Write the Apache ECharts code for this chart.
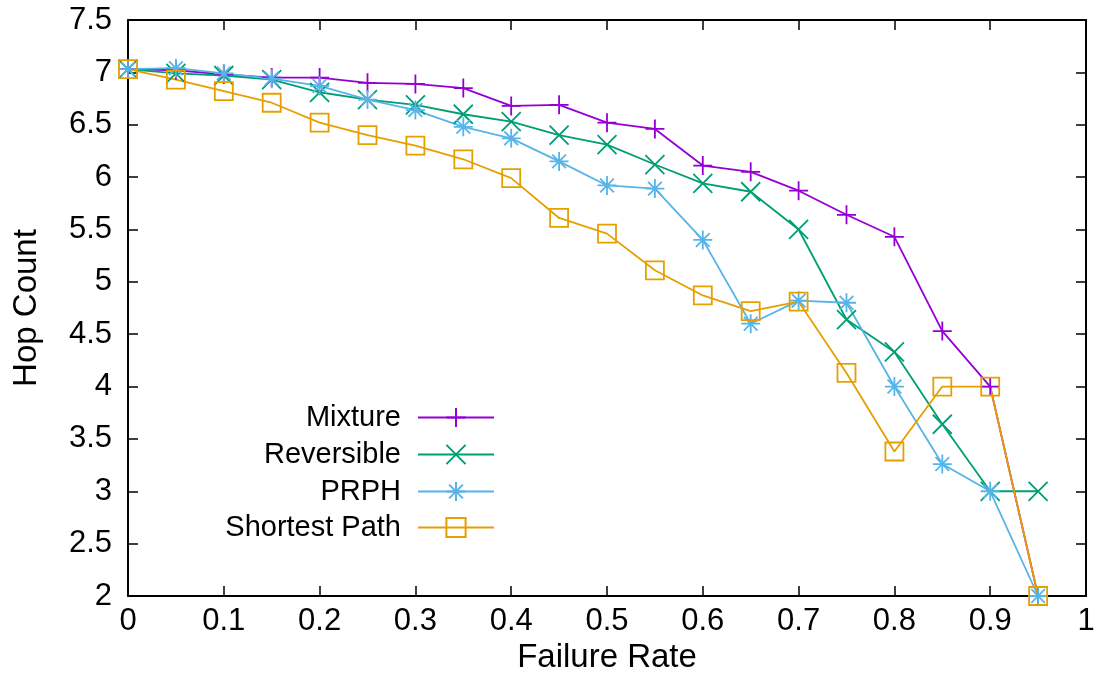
<!DOCTYPE html>
<html>
<head>
<meta charset="utf-8">
<script src="https://cdn.jsdelivr.net/npm/echarts@6/dist/echarts.min.js"></script>
<style>
  html, body { margin: 0; padding: 0; background: #fff; }
  #main { width: 1104px; height: 677px; }
</style>
</head>
<body>
<div id="main"></div>
<script>
// failure rate on the x axis
var failureRates = [0, 0.05, 0.1, 0.15, 0.2, 0.25, 0.3, 0.35, 0.4, 0.45, 0.5,
  0.55, 0.6, 0.65, 0.7, 0.75, 0.8, 0.85, 0.9, 0.95];

// hop count for each scheme
var mixture = [7.03, 7.02, 6.98, 6.95, 6.95, 6.90, 6.89, 6.85, 6.68, 6.69, 6.52,
  6.46, 6.11, 6.05, 5.87, 5.64, 5.43, 4.53, 4.00, 2.00];
var reversible = [7.03, 6.99, 6.97, 6.93, 6.81, 6.74, 6.69, 6.60, 6.53, 6.40, 6.31,
  6.12, 5.94, 5.86, 5.50, 4.64, 4.33, 3.64, 3.00, 3.00];
var prph = [7.03, 7.04, 6.99, 6.94, 6.87, 6.74, 6.64, 6.48, 6.37, 6.15, 5.92,
  5.89, 5.40, 4.60, 4.82, 4.80, 4.00, 3.26, 3.00, 2.00];
var shortestPath = [7.03, 6.93, 6.82, 6.71, 6.52, 6.40, 6.30, 6.17, 5.99, 5.61, 5.46,
  5.11, 4.87, 4.72, 4.81, 4.13, 3.38, 4.00, 4.00, 2.00];

var seriesNames = ["Mixture", "Reversible", "PRPH", "Shortest Path"];
var seriesColors = ["#9400d3", "#009e73", "#56b4e9", "#e69f00"];

var FONT = "Liberation Sans";
var plusPath = "path://M0,-1L0,1M-1,0L1,0";
var crossPath = "path://M-1,-1L1,1M-1,1L1,-1";
var starPath = "path://M0,-1L0,1M-1,0L1,0M-0.72,-0.72L0.72,0.72M-0.72,0.72L0.72,-0.72";
var symbols = [plusPath, crossPath, starPath, "rect"];
var allValues = [mixture, reversible, prph, shortestPath];

var chartDom = document.getElementById("main");
var myChart = echarts.init(chartDom, null, { renderer: "canvas" });

var series = seriesNames.map(function (name, i) {
  return {
    name: name,
    type: "line",
    data: failureRates.map(function (x, j) { return [x, allValues[i][j]]; }),
    symbol: symbols[i],
    symbolSize: i === 3 ? 18 : 19,
    showAllSymbol: true,
    animation: false,
    lineStyle: { color: seriesColors[i], width: 1.8 },
    itemStyle: {
      color: "rgba(0,0,0,0)",
      borderColor: seriesColors[i],
      borderWidth: 1.8,
    },
    emphasis: { disabled: true },
  };
});

var rowCenters = [415, 452, 489, 525];
var legends = seriesNames.map(function (name, i) {
  return {
    data: [name],
    right: 609,
    top: rowCenters[i] - 12,
    padding: 0,
    align: "right",
    itemWidth: 76,
    itemHeight: 24,
    selectedMode: false,
    textStyle: {
      color: "#000",
      fontFamily: FONT,
      fontSize: 29,
      padding: [0, 12, 0, 0],
    },
  };
});

var axisLineStyle = { color: "#000", width: 2 };
var tickStyle = { color: "#000", width: 1.5 };

var option = {
  animation: false,
  backgroundColor: "#fff",
  grid: {
    left: 128, right: 18, top: 20, bottom: 81,
    containLabel: false,
    outerBoundsMode: "none",
  },
  legend: legends,
  xAxis: [
    {
      type: "value",
      min: 0,
      max: 1,
      interval: 0.1,
      position: "bottom",
      name: "Failure Rate",
      nameLocation: "middle",
      nameGap: 45,
      nameTextStyle: { color: "#000", fontFamily: FONT, fontSize: 33 },
      axisLine: { show: true, onZero: false, lineStyle: axisLineStyle },
      axisTick: { show: true, inside: true, length: 10, lineStyle: tickStyle },
      axisLabel: { color: "#000", fontFamily: FONT, fontSize: 31, margin: 10 },
      splitLine: { show: false },
    },
    {
      type: "value",
      min: 0,
      max: 1,
      interval: 0.1,
      position: "top",
      axisLine: { show: true, onZero: false, lineStyle: axisLineStyle },
      axisTick: { show: true, inside: true, length: 10, lineStyle: tickStyle },
      axisLabel: { show: false },
      splitLine: { show: false },
    },
  ],
  yAxis: [
    {
      type: "value",
      min: 2,
      max: 7.5,
      interval: 0.5,
      position: "left",
      name: "Hop Count",
      nameLocation: "middle",
      nameGap: 85,
      nameTextStyle: { color: "#000", fontFamily: FONT, fontSize: 33 },
      axisLine: { show: true, onZero: false, lineStyle: axisLineStyle },
      axisTick: { show: true, inside: true, length: 10, lineStyle: tickStyle },
      axisLabel: { color: "#000", fontFamily: FONT, fontSize: 31, margin: 16 },
      splitLine: { show: false },
    },
    {
      type: "value",
      min: 2,
      max: 7.5,
      interval: 0.5,
      position: "right",
      axisLine: { show: true, onZero: false, lineStyle: axisLineStyle },
      axisTick: { show: true, inside: true, length: 10, lineStyle: tickStyle },
      axisLabel: { show: false },
      splitLine: { show: false },
    },
  ],
  series: series,
};

myChart.setOption(option);
</script>
</body>
</html>
